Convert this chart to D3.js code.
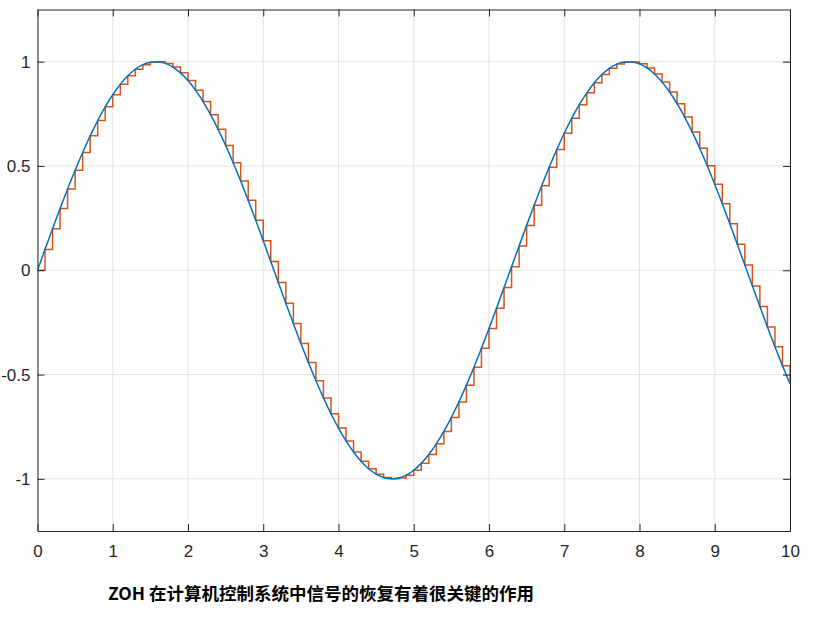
<!DOCTYPE html>
<html>
<head>
<meta charset="utf-8">
<script src="https://cdn.jsdelivr.net/npm/d3@7/dist/d3.min.js"></script>
<style>
  html, body { margin: 0; padding: 0; background: #fff; }
  svg { display: block; }
</style>
</head>
<body>
<svg id="chart" width="817" height="627"></svg>
<script>
// Sample instants (s)
const sampleTimes = [
  0.0,0.1,0.2,0.3,0.4,0.5,0.6,0.7,0.8,0.9,
  1.0,1.1,1.2,1.3,1.4,1.5,1.6,1.7,1.8,1.9,
  2.0,2.1,2.2,2.3,2.4,2.5,2.6,2.7,2.8,2.9,
  3.0,3.1,3.2,3.3,3.4,3.5,3.6,3.7,3.8,3.9,
  4.0,4.1,4.2,4.3,4.4,4.5,4.6,4.7,4.8,4.9,
  5.0,5.1,5.2,5.3,5.4,5.5,5.6,5.7,5.8,5.9,
  6.0,6.1,6.2,6.3,6.4,6.5,6.6,6.7,6.8,6.9,
  7.0,7.1,7.2,7.3,7.4,7.5,7.6,7.7,7.8,7.9,
  8.0,8.1,8.2,8.3,8.4,8.5,8.6,8.7,8.8,8.9,
  9.0,9.1,9.2,9.3,9.4,9.5,9.6,9.7,9.8,9.9,
  10.0
];
// Sampled signal values (continuous signal and ZOH hold values)
const signalValues = [
  0.0000,0.0998,0.1987,0.2955,0.3894,0.4794,0.5646,0.6442,0.7174,0.7833,
  0.8415,0.8912,0.9320,0.9636,0.9854,0.9975,0.9996,0.9917,0.9738,0.9463,
  0.9093,0.8632,0.8085,0.7457,0.6755,0.5985,0.5155,0.4274,0.3350,0.2392,
  0.1411,0.0416,-0.0584,-0.1577,-0.2555,-0.3508,-0.4425,-0.5298,-0.6119,-0.6878,
  -0.7568,-0.8183,-0.8716,-0.9162,-0.9516,-0.9775,-0.9937,-0.9999,-0.9962,-0.9825,
  -0.9589,-0.9258,-0.8835,-0.8323,-0.7728,-0.7055,-0.6313,-0.5507,-0.4646,-0.3739,
  -0.2794,-0.1822,-0.0831,0.0168,0.1165,0.2151,0.3115,0.4048,0.4941,0.5784,
  0.6570,0.7290,0.7937,0.8504,0.8987,0.9380,0.9679,0.9882,0.9985,0.9989,
  0.9894,0.9699,0.9407,0.9022,0.8546,0.7985,0.7344,0.6630,0.5849,0.5010,
  0.4121,0.3191,0.2229,0.1245,0.0248,-0.0752,-0.1743,-0.2718,-0.3665,-0.4575,
  -0.5440
];
const xTicks = [0,1,2,3,4,5,6,7,8,9,10];
const xTickLabels = ["0","1","2","3","4","5","6","7","8","9","10"];
const yTicks = [-1,-0.5,0,0.5,1];
const yTickLabels = ["-1","-0.5","0","0.5","1"];
const xDomain = [0, 10];
const yDomain = [-1.25, 1.25];
const titleText = "ZOH 在计算机控制系统中信号的恢复有着很关键的作用";

const svg = d3.select("#chart");
const L = 37.5, R = 790, T = 9.5, B = 531;
const x = d3.scaleLinear().domain(xDomain).range([L, R]);
const y = d3.scaleLinear().domain(yDomain).range([B, T]);
const pts = sampleTimes.map((t, i) => [t, signalValues[i]]);

// grid
const grid = svg.append("g").attr("stroke", "#e3e3e3").attr("stroke-width", 1);
xTicks.forEach(t => grid.append("line")
  .attr("x1", x(t)).attr("x2", x(t)).attr("y1", T).attr("y2", B));
yTicks.forEach(v => grid.append("line")
  .attr("x1", L).attr("x2", R).attr("y1", y(v)).attr("y2", y(v)));

svg.append("clipPath").attr("id", "clip").append("rect")
  .attr("x", L).attr("y", T).attr("width", R - L).attr("height", B - T);

const plot = svg.append("g").attr("clip-path", "url(#clip)");

// ZOH staircase
plot.append("path")
  .datum(pts)
  .attr("fill", "none")
  .attr("stroke", "#D95319")
  .attr("stroke-width", 1.5)
  .attr("d", d3.line().x(d => x(d[0])).y(d => y(d[1])).curve(d3.curveStepAfter));

// continuous signal
plot.append("path")
  .datum(pts)
  .attr("fill", "none")
  .attr("stroke", "#0072BD")
  .attr("stroke-width", 1.5)
  .attr("d", d3.line().x(d => x(d[0])).y(d => y(d[1])).curve(d3.curveMonotoneX));

// axes (MATLAB-like box with inward ticks)
const axCol = "#262626";
const tickLen = 7;
const xAxisB = d3.axisBottom(x).tickValues(xTicks).tickSizeInner(-tickLen).tickSizeOuter(0)
  .tickPadding(14).tickFormat((d, i) => xTickLabels[i]);
const xAxisT = d3.axisTop(x).tickValues(xTicks).tickSizeInner(-tickLen).tickSizeOuter(0).tickFormat("");
const yAxisL = d3.axisLeft(y).tickValues(yTicks).tickSizeInner(-tickLen).tickSizeOuter(0)
  .tickPadding(7).tickFormat((d, i) => yTickLabels[i]);
const yAxisR = d3.axisRight(y).tickValues(yTicks).tickSizeInner(-tickLen).tickSizeOuter(0).tickFormat("");

function style(g) {
  g.selectAll("path").attr("stroke", axCol).attr("stroke-width", 1);
  g.selectAll("line").attr("stroke", axCol).attr("stroke-width", 1);
  g.selectAll("text").attr("fill", "#262626")
    .style("font-family", "'Liberation Sans', Arial, sans-serif").style("font-size", "17px");
}
svg.append("g").attr("transform", `translate(0,${B})`).call(xAxisB).call(style);
svg.append("g").attr("transform", `translate(0,${T})`).call(xAxisT).call(style);
svg.append("g").attr("transform", `translate(${L},0)`).call(yAxisL).call(style);
svg.append("g").attr("transform", `translate(${R},0)`).call(yAxisR).call(style);

// caption
svg.append("text")
  .attr("x", 108).attr("y", 600)
  .attr("fill", "#000")
  .style("font-family", "'Noto Sans CJK SC', sans-serif")
  .style("font-weight", "bold")
  .style("font-size", "17.5px")
  .text(titleText);
</script>
</body>
</html>
